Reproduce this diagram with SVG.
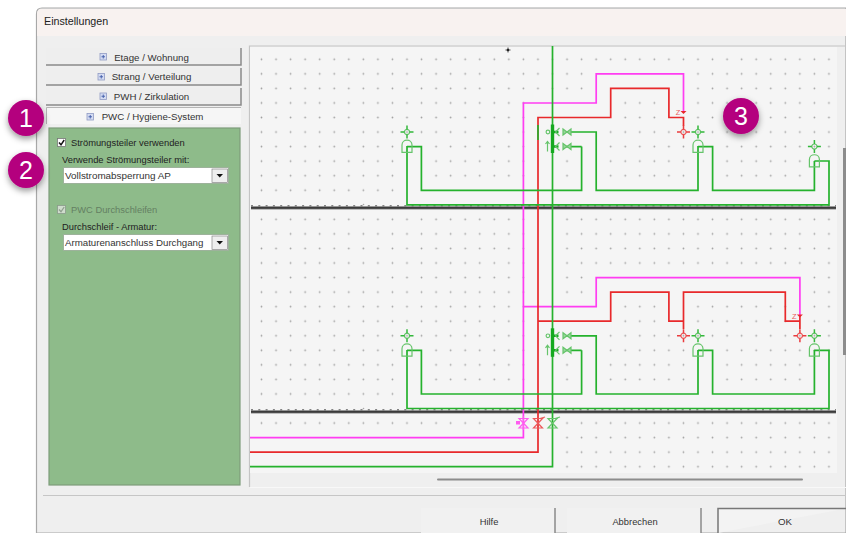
<svg xmlns="http://www.w3.org/2000/svg" width="846" height="533" viewBox="0 0 846 533">
<style>
text{font-family:"Liberation Sans",Arial,sans-serif;font-size:9.7px;fill:#333}
.c{text-anchor:middle}
.s{font-size:9.35px;fill:#222}
.tab{fill:#eeeeee;stroke:none}
.edge{fill:none;stroke:#8a8a8a;stroke-width:1.5}
.cover{fill:#f5f5f5}
.p{fill:none;stroke-width:1.7;stroke-linejoin:miter}
.g{stroke:#25b22d}.r{stroke:#e8292b}.m{stroke:#ff3df2}
.badge{fill:#b4007e;filter:url(#sh)}
.bt{fill:#fff;font-size:25px;text-anchor:middle}
.lg{fill:none;stroke:#66c46b;stroke-width:1.2}
.lr{fill:none;stroke:#ec5a5c;stroke-width:1.2}
.lm{fill:none;stroke:#ff5cf0;stroke-width:1.2}
.icon-box{fill:#d5dcf2;stroke:#8f9bc4;stroke-width:.8}
.icon-plus{fill:none;stroke:#3f5aa8;stroke-width:.9}
</style>
<defs>
<pattern id="dots" patternUnits="userSpaceOnUse" x="254.225" y="52.025" width="14.55" height="14.55"><circle cx="7.275" cy="7.275" r="0.85" fill="#a0a0a0"/></pattern>
<filter id="sh" x="-30%" y="-30%" width="160%" height="170%"><feDropShadow dx="0" dy="3" stdDeviation="3" flood-color="#000" flood-opacity=".4"/></filter>
<g id="plus"><rect class="icon-box" x="0" y="0" width="6.500" height="6.500"/><path class="icon-plus" d="M1.500 3.250H5M3.250 1.500V5"/></g>
<g id="hanger"><circle r="2.6" class="lg"/><path d="M-6.5 0H-2.6M2.6 0H6.5M0-6.5V-2.6M0 2.6V6.5" fill="none" stroke="#33b83b" stroke-width="1.5"/><path d="M-5 20.3V13C-5 6.5 5 6.5 5 13V20.3Z" class="lg"/></g>
<g id="hot"><circle r="2.6" class="lr"/><path d="M-6.5 0H-2.6M2.6 0H6.5M0-6.5V-2.6M0 2.6V6.5" fill="none" stroke="#ea3c3e" stroke-width="1.5"/></g>
<g id="zed"><path d="M-3 -1H3L0 2Z" fill="#e8292b"/><text x="-5.5" y="3" class="c" style="font-size:7.500px;fill:#ec5a5c">Z</text></g>
<g id="mani"><path d="M0-7.5V21" stroke="#15a91f" stroke-width="3.4" fill="none"/><path d="M0 0H6M0 14.5H6" stroke="#15a91f" stroke-width="2.4" fill="none"/><path d="M7-4L3 0L7 4M7 10.5L3 14.5L7 18.5" class="lg"/><path d="M10.5-3V3L14.5 0L18.500-3V3L14.500 0ZM10.5 11.500V17.500L14.500 14.500L18.500 11.500V17.500L14.500 14.500Z" class="lg" style="fill:#9ad79d"/><circle cx="-4.600" cy="0" r="1.800" class="lg"/><path d="M-5 19.500V10M-7 12L-5 9.500L-3 12" class="lg"/></g>
</defs>

<rect width="846" height="533" fill="#fff"/>
<g id="window">
<path d="M36.500 533V14Q36.500 8 42 8H846V533Z" fill="#efefef" stroke="#a8a8a8" stroke-width="1.200"/>
<path d="M37 14Q37 9 42 9H846V36H37Z" fill="#f8f2f0"/>
<text x="44" y="25" style="font-size:10.700px;fill:#222">Einstellungen</text>
<path d="M43 495.500H846" stroke="#c6c6c6" stroke-width="1.200"/>
</g>

<g id="tab-etage"><rect class="tab" x="46" y="48" width="195" height="17"/><path class="edge" d="M46 65H241V48"/><use href="#plus" x="100" y="53.500"/><text x="151.500" y="60.500" class="c">Etage / Wohnung</text></g>
<g id="tab-strang"><rect class="tab" x="46" y="68" width="195" height="17"/><path class="edge" d="M46 85H241V68"/><use href="#plus" x="98" y="73.500"/><text x="151.500" y="80" class="c">Strang / Verteilung</text></g>
<g id="tab-pwh"><rect class="tab" x="46" y="88" width="195" height="17"/><path class="edge" d="M46 105H241V88"/><use href="#plus" x="100" y="93"/><text x="151.500" y="99.500" class="c">PWH / Zirkulation</text></g>
<g id="tab-pwc"><rect x="46" y="108" width="195" height="16" fill="#f6f6f6"/><path d="M46.500 124V107.500H241" fill="none" stroke="#b5b5b5"/><use href="#plus" x="87" y="113.500"/><text x="152.500" y="120" class="c">PWC / Hygiene-System</text></g>

<g id="panel">
<rect x="49" y="128" width="191" height="357" fill="#8ebb8a" stroke="#7d9c7b" stroke-width="1.200"/>
<rect x="57.500" y="138.500" width="8" height="8" fill="#fff" stroke="#777" stroke-width=".8"/>
<path d="M59 142.500L61 144.800L64.200 140" fill="none" stroke="#111" stroke-width="1.500"/>
<text x="71" y="146" class="s">Strömungsteiler verwenden</text>
<text x="62" y="163" class="s">Verwende Strömungsteiler mit:</text>
<rect x="63.500" y="167.500" width="165" height="16" fill="#fff" stroke="#9db29b"/>
<rect x="212" y="169" width="15.500" height="13.500" fill="#eee" stroke="#888" stroke-width=".7"/>
<path d="M216.500 174H223L219.750 177.500Z" fill="#111"/>
<text x="65" y="179" style="font-size:9.900px">Vollstromabsperrung AP</text>
<rect x="57.500" y="205.500" width="8" height="8" fill="#cfdccd" stroke="#8b9b8a" stroke-width=".8"/>
<path d="M59 209.500L61 211.800L64.200 207" fill="none" stroke="#8f9f8e" stroke-width="1.300"/>
<text x="71" y="213" class="s" style="fill:#647f62">PWC Durchschleifen</text>
<text x="62" y="230" class="s">Durchschleif - Armatur:</text>
<rect x="63.500" y="234.500" width="165" height="16" fill="#fff" stroke="#9db29b"/>
<rect x="212" y="236" width="15.500" height="13.500" fill="#eee" stroke="#888" stroke-width=".7"/>
<path d="M216.500 241H223L219.750 244.500Z" fill="#111"/>
<text x="65" y="246" style="font-size:9.700px">Armaturenanschluss Durchgang</text>
</g>

<g id="canvas">
<path d="M249.500 487V46H846" fill="none" stroke="#c4c4c4" stroke-width="1.200"/>
<rect x="250" y="47" width="587" height="426" fill="#f5f5f5"/>
<path d="M250 487.500H846" stroke="#f8f8f8"/>
<rect x="258" y="55" width="578" height="142" fill="url(#dots)"/>
<rect x="258" y="215" width="578" height="187" fill="url(#dots)"/>
<rect x="258" y="418" width="578" height="55" fill="url(#dots)"/>
<path class="cover" d="M400 140h29v57h-29zM429 183h407v14H429zM531 96h29v101h-29zM559 96h44v58h-44zM574 154h29v29h-29zM588 66h102v30H588zM603 96h15v29h-15zM661 96h29v29h-29zM691 140h29v43h-29zM807 154h29v29h-29z"/>
<path class="cover" d="M400 343h29v59h-29zM429 386h407v16H429zM531 299h29v103h-29zM531 215h29v84h-29zM559 299h44v59h-44zM574 358h29v29h-29zM588 270h218v29H588zM603 299h15v29h-15zM661 299h29v29h-29zM792 299h15v29h-15zM691 343h29v43h-29zM807 358h29v29h-29z"/>
<path class="cover" d="M250 430h310v43H250z"/>
<circle cx="508" cy="50" r="1.200" fill="#222"/><path d="M505.500 50H510.500M508 47.500V52.500" stroke="#222" stroke-width=".8"/>
<circle cx="363.500" cy="204.500" r=".8" fill="#a8a8a8"/><circle cx="363.500" cy="408.500" r=".8" fill="#a8a8a8"/>
<rect x="251" y="206.500" width="585" height="2.400" fill="#3b3b3b"/>
<rect x="251" y="410.500" width="585" height="2.400" fill="#3b3b3b"/>
<path d="M251 205.800H836M251 409.800H836" stroke="#555" stroke-width="1" stroke-dasharray="2 5.300"/>
<path d="M251 209.500H836M251 413.500H836" stroke="#bdbdbd" stroke-width="1"/>
<path d="M438 479.500H802" stroke="#8c8c8c" stroke-width="2" stroke-linecap="round"/>
<path d="M844.500 148V355" stroke="#8c8c8c" stroke-width="3"/>
</g>

<g id="connectors">
<path class="p m" d="M250 437.600H523.400V103H596.200V73.900H683.500V113"/>
<path class="p m" d="M523.400 306.700H596.200V277.600H799.900V316"/>
<path class="p r" d="M250 452.100H538V117.500H610.700V88.400H668.900V117.500H683.500V126"/>
<path class="p r" d="M538 321.200H610.700V292.100H668.900V321.200H683.500V329M683.500 321.200V292.100H785.300V321.200H799.900V329M799.900 316V321.200"/>
<path class="p g" d="M538 125V140"/>
<path class="p g" d="M552.500 46V466.700H250"/>
<path class="p g" d="M407 146V204.800H829V161H814.400M814.400 161V190.300H712.600V146.600H698M698 146V190.300H596.200V132H565M581.600 146.600H565M581.600 146.600V190.300H421.400V146.600H407"/>
<path class="p g" d="M407 350V408.500H829V350.300H814.400M814.400 350V394H712.600V350.300H698M698 350V394H596.200V335.800H565M581.600 350.300H565M581.600 350.300V394H421.400V350.300H407"/>
</g>

<g id="hanger-1"><use href="#hanger" x="407" y="132"/></g>
<g id="hanger-2"><use href="#hanger" x="698" y="132"/></g>
<g id="hanger-3"><use href="#hanger" x="814.400" y="146.600"/></g>
<g id="hanger-4"><use href="#hanger" x="407" y="335.800"/></g>
<g id="hanger-5"><use href="#hanger" x="698" y="335.800"/></g>
<g id="hanger-6"><use href="#hanger" x="814.400" y="335.800"/></g>
<g id="hot-1"><use href="#hot" x="683.500" y="132"/><use href="#zed" x="683.500" y="112"/></g>
<g id="hot-2"><use href="#hot" x="683.500" y="335.800"/></g>
<g id="hot-3"><use href="#hot" x="799.900" y="335.800"/><use href="#zed" x="799.900" y="315.500"/></g>
<g id="manifold-1"><use href="#mani" x="552.500" y="132"/></g>
<g id="manifold-2"><use href="#mani" x="552.500" y="335.800"/></g>
<g id="valve-pwh"><path class="lm" d="M519 418.500H528L519 428H528ZM523.400 416V430"/><rect x="516" y="421" width="4" height="3.500" fill="#ff5cf0"/></g>
<g id="valve-red"><path class="lr" d="M533.500 418.500H542.500L533.500 428H542.500Z"/><path d="M540 418.500L545 417" class="lr"/></g>
<g id="valve-green"><path class="lg" d="M548 418.500H557L548 428H557Z"/><path d="M555 418.500L560 417" class="lg"/></g>

<g id="btn-hilfe"><rect x="421" y="508" width="134" height="25" fill="#f1f1f1"/><path d="M555 508V533" stroke="#8a8a8a" stroke-width="1.500"/><text x="489" y="525" class="c s" style="fill:#333">Hilfe</text></g>
<g id="btn-abbrechen"><rect x="567" y="508" width="134" height="25" fill="#f1f1f1"/><path d="M701 508V533" stroke="#8a8a8a" stroke-width="1.500"/><text x="635" y="525" class="c s" style="fill:#333">Abbrechen</text></g>
<g id="btn-ok"><path d="M718 533V508.500H846" fill="#f3f3f3" stroke="#777" stroke-width="1.500"/><text x="785" y="525" class="c">OK</text></g>

<g id="badge-1"><circle class="badge" cx="26" cy="118" r="18"/><text class="bt" x="26" y="127">1</text></g>
<g id="badge-2"><circle class="badge" cx="26" cy="170" r="18"/><text class="bt" x="26" y="179">2</text></g>
<g id="badge-3"><circle class="badge" cx="741" cy="116" r="18"/><text class="bt" x="741" y="125">3</text></g>
</svg>
